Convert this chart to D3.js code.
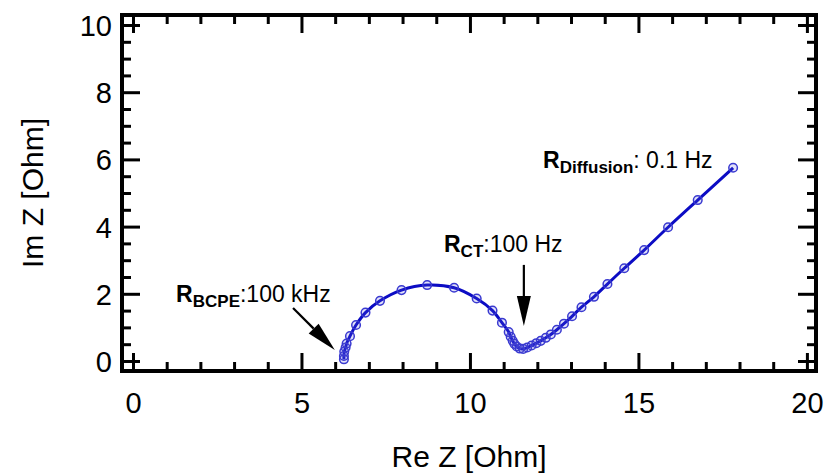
<!DOCTYPE html>
<html>
<head>
<meta charset="utf-8">
<script src="https://cdn.jsdelivr.net/npm/d3@7/dist/d3.min.js"></script>
<style>
  html, body { margin: 0; padding: 0; background: #fff; }
  svg { display: block; font-family: "Liberation Sans", Arial, sans-serif; }
</style>
</head>
<body>
<svg id="chart" width="827" height="474"></svg>
<script>
// ---- data ----
const reZ = [6.26, 6.26, 6.27, 6.31, 6.34, 6.44, 6.62, 6.90, 7.33, 7.97, 8.73, 9.53, 10.20, 10.67, 10.95,
             11.15, 11.21, 11.27, 11.32, 11.39, 11.48, 11.58, 11.70, 11.83, 11.97, 12.10, 12.25, 12.40,
             12.58, 12.79, 13.03, 13.31, 13.68, 14.08, 14.58, 15.17, 15.88, 16.76, 17.81];
const imZ = [0.05, 0.15, 0.28, 0.40, 0.52, 0.74, 1.07, 1.44, 1.79, 2.11, 2.26, 2.18, 1.86, 1.50, 1.14,
             0.86, 0.72, 0.60, 0.51, 0.43, 0.37, 0.36, 0.40, 0.46, 0.53, 0.60, 0.69, 0.79,
             0.93, 1.11, 1.33, 1.60, 1.91, 2.29, 2.76, 3.30, 3.98, 4.79, 5.75];
const xTicks = [0, 5, 10, 15, 20];
const yTicks = [0, 2, 4, 6, 8, 10];
const xMinorTicks = d3.range(0, 21, 1);
const yMinorTicks = d3.range(0, 10.01, 0.5);
const xTitle = "Re Z [Ohm]";
const yTitle = "Im Z [Ohm]";
// annotations: label pieces, anchor in data units, arrow from/to in data units
const annoMain = ["R", "R", "R"];
const annoSub = ["BCPE", "CT", "Diffusion"];
const annoRest = [":100 kHz", ":100 Hz", ": 0.1 Hz"];
const annoX = [1.28, 9.23, 12.17];
const annoY = [1.76, 3.24, 5.74];
const arrowFrom = [[4.75, 1.58], [11.60, 2.86]];
const arrowTo = [[5.99, 0.33], [11.60, 1.04]];

// ---- layout ----
const svg = d3.select("#chart");
const L = 122, T = 15, R = 816, B = 371;
const x = d3.scaleLinear().domain([-0.326, 20.27]).range([L, R]);
const y = d3.scaleLinear().domain([-0.298, 10.298]).range([B, T]);

const tickColor = "#000";
const majorLen = 18, minorLen = 9, tw = 3;

function ticks(axisGen, scale, vals, len, pos) {
  const gg = svg.append("g").attr("transform", pos);
  gg.call(axisGen(scale).tickValues(vals).tickSize(len).tickSizeOuter(0).tickFormat(""));
  gg.select(".domain").remove();
  gg.selectAll(".tick line").attr("stroke", tickColor).attr("stroke-width", tw);
  return gg;
}
const xMinorOnly = xMinorTicks.filter(v => xTicks.indexOf(v) < 0);
const yMinorOnly = yMinorTicks.filter(v => yTicks.indexOf(v) < 0);
ticks(d3.axisTop, x, xMinorOnly, minorLen, `translate(0,${B})`);
ticks(d3.axisTop, x, xTicks, majorLen, `translate(0,${B})`);
ticks(d3.axisBottom, x, xMinorOnly, minorLen, `translate(0,${T})`);
ticks(d3.axisBottom, x, xTicks, majorLen, `translate(0,${T})`);
ticks(d3.axisRight, y, yMinorOnly, minorLen, `translate(${L},0)`);
ticks(d3.axisRight, y, yTicks, majorLen, `translate(${L},0)`);
ticks(d3.axisLeft, y, yMinorOnly, minorLen, `translate(${R},0)`);
ticks(d3.axisLeft, y, yTicks, majorLen, `translate(${R},0)`);

// frame
svg.append("rect").attr("x", L).attr("y", T).attr("width", R - L).attr("height", B - T)
  .attr("fill", "none").attr("stroke", "#000").attr("stroke-width", 4);

// tick labels
const xl = svg.append("g").attr("transform", `translate(0,${B})`)
  .call(d3.axisBottom(x).tickValues(xTicks).tickSize(0).tickPadding(0).tickFormat(d3.format("d")));
xl.select(".domain").remove();
xl.selectAll("text").attr("font-size", 29).attr("fill", "#000")
  .attr("font-family", "'Liberation Sans', Arial, sans-serif")
  .attr("dy", null).attr("y", 42);
const yl = svg.append("g").attr("transform", `translate(${L},0)`)
  .call(d3.axisLeft(y).tickValues(yTicks).tickSize(0).tickPadding(0).tickFormat(d3.format("d")));
yl.select(".domain").remove();
yl.selectAll("text").attr("font-size", 29).attr("fill", "#000")
  .attr("font-family", "'Liberation Sans', Arial, sans-serif")
  .attr("x", -10).attr("dy", "0.36em");

// axis titles
svg.append("text").attr("x", 469).attr("y", 467).attr("text-anchor", "middle")
  .attr("font-size", 30).attr("fill", "#000").text(xTitle);
svg.append("text").attr("transform", `translate(43,${(T + B) / 2}) rotate(-90)`)
  .attr("text-anchor", "middle").attr("font-size", 30).attr("fill", "#000").text(yTitle);

// data
const pts = reZ.map((v, i) => [v, imZ[i]]);
const line = d3.line().x(d => x(d[0])).y(d => y(d[1])).curve(d3.curveCatmullRom.alpha(0.5));
svg.append("path").datum(pts).attr("d", line).attr("fill", "none")
  .attr("stroke", "#0c0cc4").attr("stroke-width", 3);
svg.append("g").selectAll("circle").data(pts).join("circle")
  .attr("cx", d => x(d[0])).attr("cy", d => y(d[1])).attr("r", 4.3)
  .attr("fill", "rgba(90,90,220,0.18)").attr("stroke", "#3a3ad0").attr("stroke-width", 1.5);

// annotations
annoMain.forEach((m, i) => {
  const t = svg.append("text").attr("x", x(annoX[i])).attr("y", y(annoY[i])).attr("fill", "#000");
  t.append("tspan").attr("font-size", 23).attr("font-weight", "bold").text(m);
  t.append("tspan").attr("font-size", 17).attr("font-weight", "bold").attr("dy", 5).text(annoSub[i]);
  t.append("tspan").attr("font-size", 23).attr("dy", -5).text(annoRest[i]);
});
arrowFrom.forEach((f, i) => {
  const x0 = x(f[0]), y0 = y(f[1]), x1 = x(arrowTo[i][0]), y1 = y(arrowTo[i][1]);
  const dx = x1 - x0, dy = y1 - y0, len = Math.hypot(dx, dy);
  const ux = dx / len, uy = dy / len, head = 30, hw = 7;
  const bx = x1 - ux * head, by = y1 - uy * head;
  svg.append("line").attr("x1", x0).attr("y1", y0).attr("x2", bx).attr("y2", by)
    .attr("stroke", "#000").attr("stroke-width", 2.2);
  svg.append("path").attr("d", `M${x1},${y1}L${bx - uy * hw},${by + ux * hw}L${bx + uy * hw},${by - ux * hw}Z`)
    .attr("fill", "#000");
});
</script>
</body>
</html>
